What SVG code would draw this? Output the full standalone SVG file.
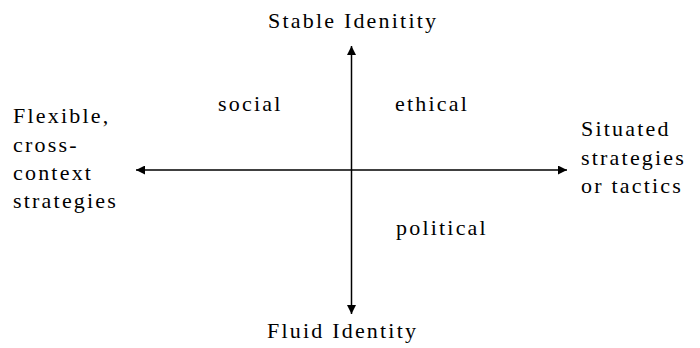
<svg xmlns="http://www.w3.org/2000/svg" width="700" height="348" viewBox="0 0 700 348" font-family="'Liberation Serif', 'DejaVu Serif', serif">
<defs>
<style>
text { font-family: "Liberation Serif", "DejaVu Serif", "Times New Roman", serif; font-size: 22px; letter-spacing: 2.2px; fill: #000; }
.ax { stroke: #000; stroke-width: 1.5; fill: none; }
</style>
<marker id="ah" viewBox="0 0 10 10" refX="10" refY="5" markerWidth="10" markerHeight="9" markerUnits="userSpaceOnUse" orient="auto">
<path d="M0,0 L10,5 L0,10 Z" fill="#000"/>
</marker>
</defs>
<rect width="700" height="348" fill="#fff"/>
<g id="connectors">
<line class="ax" x1="351.5" y1="170" x2="351.5" y2="46" marker-end="url(#ah)"/>
<line class="ax" x1="351.5" y1="170" x2="351.5" y2="314" marker-end="url(#ah)"/>
<line class="ax" x1="351.5" y1="170" x2="567" y2="170" marker-end="url(#ah)"/>
<line class="ax" x1="351.5" y1="170" x2="136" y2="170" marker-end="url(#ah)"/>
</g>
<g id="top"><text x="268" y="28">Stable Idenitity</text></g>
<g id="bottom"><text x="267" y="338">Fluid Identity</text></g>
<g id="left">
<text x="13" y="123">Flexible,</text>
<text x="13" y="151.5">cross-</text>
<text x="13" y="180">context</text>
<text x="13" y="208">strategies</text>
</g>
<g id="right">
<text x="581" y="136">Situated</text>
<text x="581" y="165">strategies</text>
<text x="581" y="193">or tactics</text>
</g>
<g id="social"><text x="218" y="111">social</text></g>
<g id="ethical"><text x="395" y="111">ethical</text></g>
<g id="political"><text x="396" y="235">political</text></g>
</svg>
